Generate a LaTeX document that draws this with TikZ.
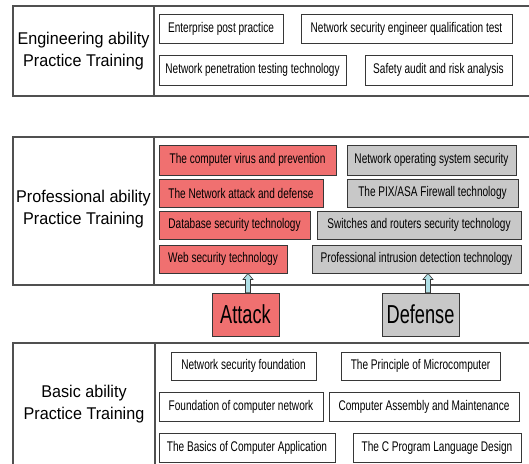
\documentclass[tikz,border=0pt]{standalone}
\usepackage{fontspec}
\setmainfont{Liberation Sans}
\newfontfamily\boxfnt[FakeStretch=0.72]{Liberation Sans}
\newfontfamily\bigfnt[FakeStretch=0.70]{Liberation Sans}
\newfontfamily\ttlfnt[FakeStretch=0.95]{Liberation Sans}
\usetikzlibrary{calc}
\definecolor{redf}{RGB}{240,112,112}
\definecolor{grayf}{RGB}{200,200,200}
\definecolor{edge}{RGB}{55,55,55}
\definecolor{frame}{RGB}{80,80,80}
\definecolor{arrf}{RGB}{176,224,230}
\begin{document}
\begin{tikzpicture}[x=1pt,y=-1pt,
  course/.style={draw=edge,line width=0.9pt,inner sep=0pt,font=\boxfnt\fontsize{14}{16}\selectfont},
  plain/.style={course,fill=white},
  atk/.style={course,fill=redf},
  dfn/.style={course,fill=grayf},
  bigbox/.style={draw=edge,line width=0.9pt,inner sep=0pt,font=\bigfnt\fontsize{26}{28}\selectfont},
  title/.style={align=center,font=\ttlfnt\fontsize{17}{22.5}\selectfont},
  frm/.style={draw=frame,line width=1.3pt},
  arr/.style={draw=edge,line width=0.6pt,fill=arrf}]
\clip (0,0) rectangle (529,463);
\fill[white] (0,0) rectangle (529,463);
% frames
\draw[frm] (13,6) rectangle (540,96);
\draw[frm] (154,6) -- (154,96);
\draw[frm] (13,137) rectangle (540,285);
\draw[frm] (154,137) -- (154,285);
\draw[frm] (13,343) rectangle (540,475);
\draw[frm] (155,343) -- (155,475);
% titles
\node[title] (t1) at (83.5,51) {Engineering ability\\Practice Training};
\node[title] (t2) at (83.5,209) {Professional ability\\Practice Training};
\node[title] (t3) at (84,404) {Basic ability\\Practice Training};
% engineering
\node[plain,minimum width=124pt,minimum height=29pt] (e1) at (221,28.5) {Enterprise post practice};
\node[plain,minimum width=211pt,minimum height=29pt] (e2) at (406.5,28.5) {Network security engineer qualification test};
\node[plain,minimum width=187pt,minimum height=30pt] (e3) at (252.5,70) {Network penetration testing technology};
\node[plain,minimum width=147pt,minimum height=30pt] (e4) at (438.5,70) {Safety audit and risk analysis};
% professional
\node[atk,minimum width=177pt,minimum height=30pt] (r1) at (247.5,160) {The computer virus and prevention};
\node[atk,minimum width=164pt,minimum height=28pt] (r2) at (241,193) {The Network attack and defense};
\node[atk,minimum width=151pt,minimum height=28pt] (r3) at (234.5,225) {Database security technology};
\node[atk,minimum width=128pt,minimum height=28pt] (r4) at (223,259) {Web security technology};
\node[dfn,minimum width=169pt,minimum height=30pt] (g1) at (431.5,160) {Network operating system security};
\node[dfn,minimum width=171pt,minimum height=28pt] (g2) at (432.5,193) {The PIX/ASA Firewall technology};
\node[dfn,minimum width=204pt,minimum height=28pt] (g3) at (419,225) {Switches and routers security technology};
\node[dfn,minimum width=209pt,minimum height=28pt] (g4) at (416.5,259) {Professional intrusion detection technology};
% attack / defense
\node[bigbox,fill=redf,minimum width=67pt,minimum height=43pt] (att) at (245.5,314.5) {Attack};
\node[bigbox,fill=grayf,minimum width=77pt,minimum height=43pt] (def) at (420.5,314.5) {Defense};
% arrows
\coordinate (a0) at ($(att.north)+(2.5,0)$);
\coordinate (a1) at (a0 |- r4.south);
\draw[arr] ($(a0)+(-2.5,0)$) -- ($(a1)+(-2.5,6)$) -- ($(a1)+(-5,6)$) -- (a1) -- ($(a1)+(5,6)$) -- ($(a1)+(2.5,6)$) -- ($(a0)+(2.5,0)$) -- cycle;
\coordinate (d0) at ($(def.north)+(7.5,0)$);
\coordinate (d1) at (d0 |- g4.south);
\draw[arr] ($(d0)+(-2.5,0)$) -- ($(d1)+(-2.5,6)$) -- ($(d1)+(-5,6)$) -- (d1) -- ($(d1)+(5,6)$) -- ($(d1)+(2.5,6)$) -- ($(d0)+(2.5,0)$) -- cycle;
% basic
\node[plain,minimum width=145pt,minimum height=28pt] (b1) at (243.5,366) {Network security foundation};
\node[plain,minimum width=159pt,minimum height=28pt] (b2) at (420.5,366) {The Principle of Microcomputer};
\node[plain,minimum width=164pt,minimum height=29pt] (b3) at (241,406.5) {Foundation of computer network};
\node[plain,minimum width=190pt,minimum height=29pt] (b4) at (424,406.5) {Computer Assembly and Maintenance};
\node[plain,minimum width=176pt,minimum height=29pt] (b5) at (247,447.5) {The Basics of Computer Application};
\node[plain,minimum width=168pt,minimum height=29pt] (b6) at (437,447.5) {The C Program Language Design};
\end{tikzpicture}
\end{document}
